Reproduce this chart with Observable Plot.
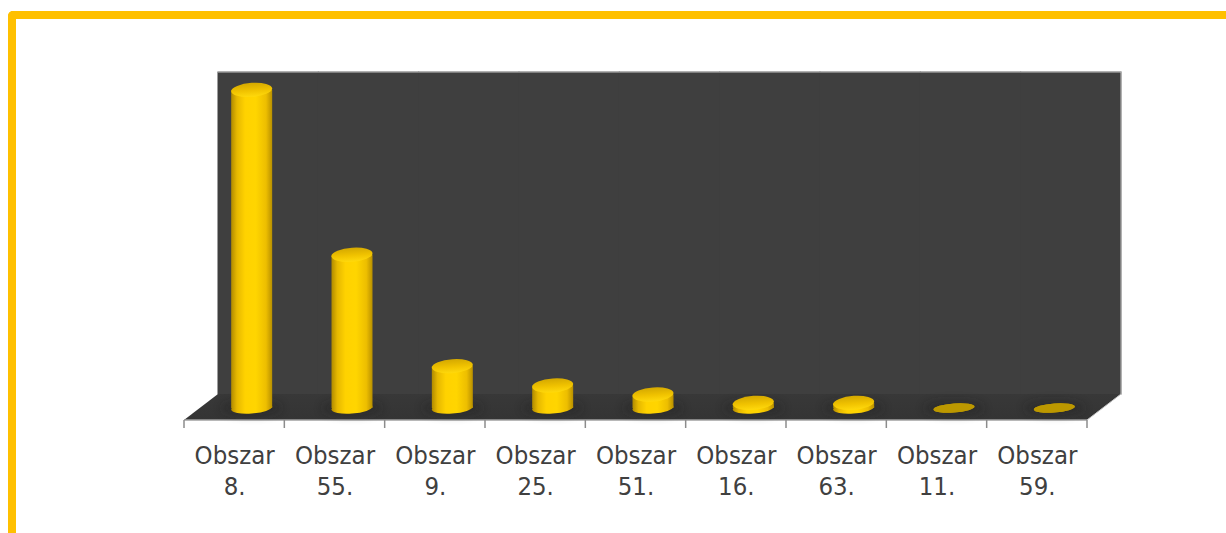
<!DOCTYPE html>
<html>
<head>
<meta charset="utf-8">
<script src="https://cdn.jsdelivr.net/npm/d3@7"></script>
<script src="https://cdn.jsdelivr.net/npm/@observablehq/plot@0.6"></script>
<style>
html,body{margin:0;padding:0;background:#fff;overflow:hidden;width:1226px;height:533px;}
#frame{position:absolute;left:8px;top:11px;width:1226px;height:530px;border-left:8px solid #FFC000;border-top:8px solid #FFC000;border-top-left-radius:5px;}
#chart{position:absolute;left:0;top:0;}
</style>
</head>
<body>
<div id="frame"></div>
<div id="chart"></div>
<script>
const categories = ["Obszar 8.","Obszar 55.","Obszar 9.","Obszar 25.","Obszar 51.","Obszar 16.","Obszar 63.","Obszar 11.","Obszar 59."];
const values = [98.8,47.6,13,7,4.2,1.6,1.6,0,0];
const table = categories.map((c,i)=>({c,v:values[i]}));

const depthX = 34, depthY = 26;          // 3D depth of the floor
const dx = depthX/2+0.5, dy = -depthY/2+1; // columns stand mid-depth
const barW = 41, ryTop = 7, ryBase = 5.5, ryFlat = 4.5, skew = -4;
const inset = (903/9-barW)/2;

const defs = () => {
  const g = d3.create("svg:g");
  const d = g.append("defs");
  const grad = (id, stops, y) => {
    const l = d.append("linearGradient").attr("id",id);
    if (y) l.attr("x1",0).attr("x2",0).attr("y1",0).attr("y2",1);
    stops.forEach(([o,c])=>l.append("stop").attr("offset",o).attr("stop-color",c));
  };
  grad("cyl",[[0,"#B08A00"],[.14,"#E6B800"],[.34,"#FFD200"],[.6,"#FFD500"],[.85,"#EDBE00"],[1,"#B89000"]]);
  grad("capTop",[[0,"#D4A800"],[.55,"#F0C200"],[1,"#FFD90C"]],true);
  grad("floor",[[0,"#383838"],[1,"#343434"]],true);
  const f = d.append("filter").attr("id","blur").attr("x","-50%").attr("y","-100%").attr("width","200%").attr("height","300%");
  f.append("feGaussianBlur").attr("stdDeviation",5);
  return g.node();
};

const floor = (index,{x,y}) => {
  const g = d3.create("svg:g");
  const [x0,x1] = x.range(), y0 = y(0);
  g.append("path").attr("fill","url(#floor)")
    .attr("d",`M${x0},${y0}L${x1},${y0}L${x1+depthX},${y0-depthY}L${x0+depthX},${y0-depthY}Z`);
  g.append("path").attr("fill","none").attr("stroke","#a0a0a0").attr("stroke-width",1.5)
    .attr("d",`M${x0},${y0}L${x1},${y0}`);
  g.append("path").attr("fill","none").attr("stroke","#c4c4c4").attr("stroke-width",1)
    .attr("d",`M${x1},${y0}L${x1+depthX},${y0-depthY}L${x1+depthX},${y(100)-depthY}L${x0+depthX},${y(100)-depthY}`);
  const ticks = categories.map(c=>x(c)).concat(x1);
  g.selectAll(".t").data(ticks).join("line").attr("x1",d=>d).attr("x2",d=>d)
    .attr("y1",y0).attr("y2",y0+8).attr("stroke","#8c8c8c").attr("stroke-width",1.5);
  return g.node();
};

const cx = (x,c) => x(c)+x.bandwidth()/2+dx;

const shadows = (index,{x,y}) => {
  const g = d3.create("svg:g");
  g.selectAll("ellipse").data(table).join("ellipse")
    .attr("cx",d=>cx(x,d.c)).attr("cy",y(0)+dy).attr("rx",barW/2+10).attr("ry",7)
    .attr("fill","#1c1c1c").attr("opacity",.4).attr("filter","url(#blur)");
  return g.node();
};

const caps = (kind) => (index,{x,y}) => {
  const g = d3.create("svg:g");
  g.selectAll("ellipse").data(table).join("ellipse")
    .attr("rx",barW/2)
    .attr("ry",d=>d.v===0?ryFlat:(kind==="base"?ryBase:ryTop))
    .attr("transform",d=>{
      const v = kind==="base"?0:d.v;
      return `translate(${cx(x,d.c)},${y(v)+dy}) skewY(${skew})`;
    })
    .attr("fill",d=>d.v===0?"#BC9800":(kind==="base"?"url(#cyl)":"url(#capTop)"));
  return g.node();
};

const plot = Plot.plot({
  width:1226, height:533,
  marginLeft:184, marginRight:139, marginTop:98, marginBottom:113,
  style:{background:"transparent", overflow:"visible"},
  x:{domain:categories, padding:0, round:false, label:null},
  y:{domain:[0,100], label:null, axis:null},
  marks:[
    defs,
    Plot.barY(categories,{x:d=>d,y:()=>100,dx:depthX,dy:-depthY,fill:"#3F3F3F",inset:-0.5}),
    floor,
    shadows,
    caps("base"),
    Plot.barY(table,{x:"c",y:"v",dx,dy,insetLeft:inset,insetRight:inset,fill:"url(#cyl)"}),
    caps("top"),
    Plot.axisX({
      tickSize:0, tickPadding:21, fontSize:25.5, lineHeight:1.22,
      fontFamily:"'DejaVu Sans Condensed','DejaVu Sans',sans-serif", fill:"#404040", label:null,
      tickFormat:d=>d.replace(" ","\n")
    })
  ]
});
document.getElementById("chart").append(plot);
</script>
</body>
</html>
